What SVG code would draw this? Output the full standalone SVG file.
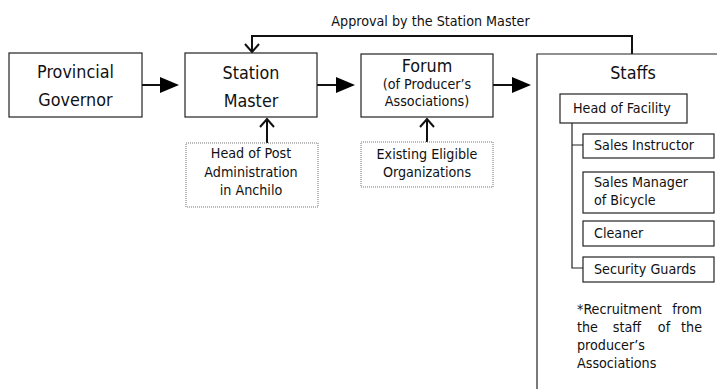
<svg xmlns="http://www.w3.org/2000/svg" width="717" height="389" viewBox="0 0 717 389">
<defs>
<style>
text{font-family:"DejaVu Sans Condensed","DejaVu Sans",sans-serif;fill:#111}
.big{font-size:17.8px}
.sm{font-size:14.2px}
.box{fill:#fff;stroke:#222;stroke-width:1.2}
.dot{fill:#fff;stroke:#777;stroke-width:1;stroke-dasharray:1 1}
.ln{fill:none;stroke:#111;stroke-width:2}
.thin{fill:none;stroke:#222;stroke-width:1.2}
.c{text-anchor:middle}
</style>
</defs>
<g id="approval-label"><text class="sm" x="430.5" y="26" text-anchor="middle">Approval by the Station Master</text></g>
<g id="connectors">
<path class="ln" d="M142,85 H160"/>
<path d="M160,77 L179,85 L160,93 Z" fill="#000"/>
<path class="ln" d="M317,85 H336"/>
<path d="M336,77 L355,85 L336,93 Z" fill="#000"/>
<path class="ln" d="M493,85 H512"/>
<path d="M512,77 L531,85 L512,93 Z" fill="#000"/>
<path class="ln" d="M632,54 V36 H252 V52"/>
<path class="ln" d="M245,44 L252,52 L259,44"/>
<path class="ln" d="M267,143 V119"/>
<path class="ln" d="M260,127 L267,119 L274,127"/>
<path class="ln" d="M427,142 V119"/>
<path class="ln" d="M420,127 L427,119 L434,127"/>
<path class="thin" d="M572,123 V268 H583 M572,145 H583"/>
</g>
<g id="provincial-governor">
<rect class="box" x="9" y="53" width="133" height="64"/>
<text class="big c" x="75.5" y="78">Provincial</text>
<text class="big c" x="75.5" y="106">Governor</text>
</g>
<g id="station-master">
<rect class="box" x="185" y="53" width="132" height="64"/>
<text class="big c" x="251" y="79">Station</text>
<text class="big c" x="251" y="107">Master</text>
</g>
<g id="forum">
<rect class="box" x="361" y="54" width="132" height="63"/>
<text class="big c" x="427" y="72">Forum</text>
<text class="sm c" x="427" y="89">(of Producer’s</text>
<text class="sm c" x="427" y="106">Associations)</text>
</g>
<g id="head-of-post">
<rect class="dot" x="186" y="143" width="132" height="64"/>
<text class="sm c" x="251" y="158">Head of Post</text>
<text class="sm c" x="251" y="177">Administration</text>
<text class="sm c" x="251" y="195">in Anchilo</text>
</g>
<g id="existing-eligible">
<rect class="dot" x="361" y="142" width="132" height="45"/>
<text class="sm c" x="427" y="159">Existing Eligible</text>
<text class="sm c" x="427" y="177">Organizations</text>
</g>
<g id="staffs">
<path class="thin" d="M717,54 H537 V389"/>
<text class="big c" x="633" y="79">Staffs</text>
</g>
<g id="head-of-facility">
<rect class="box" x="560" y="94" width="127" height="29"/>
<text class="sm" x="573" y="113">Head of Facility</text>
</g>
<g id="sales-instructor">
<rect class="box" x="583" y="134" width="131" height="24"/>
<text class="sm" x="594" y="150">Sales Instructor</text>
</g>
<g id="sales-manager">
<rect class="box" x="583" y="172" width="131" height="41"/>
<text class="sm" x="594" y="187">Sales Manager</text>
<text class="sm" x="594" y="205">of Bicycle</text>
</g>
<g id="cleaner">
<rect class="box" x="583" y="221" width="131" height="25"/>
<text class="sm" x="594" y="238">Cleaner</text>
</g>
<g id="security-guards">
<rect class="box" x="583" y="257" width="131" height="25"/>
<text class="sm" x="594" y="274">Security Guards</text>
</g>
<g id="recruitment-note">
<text class="sm" x="577" y="314">*Recruitment</text>
<text class="sm" x="702" y="314" text-anchor="end">from</text>
<text class="sm" x="577" y="332">the</text>
<text class="sm" x="627" y="332" text-anchor="middle">staff</text>
<text class="sm" x="664" y="332" text-anchor="middle">of</text>
<text class="sm" x="702" y="332" text-anchor="end">the</text>
<text class="sm" x="577" y="350">producer’s</text>
<text class="sm" x="577" y="368">Associations</text>
</g>
</svg>
